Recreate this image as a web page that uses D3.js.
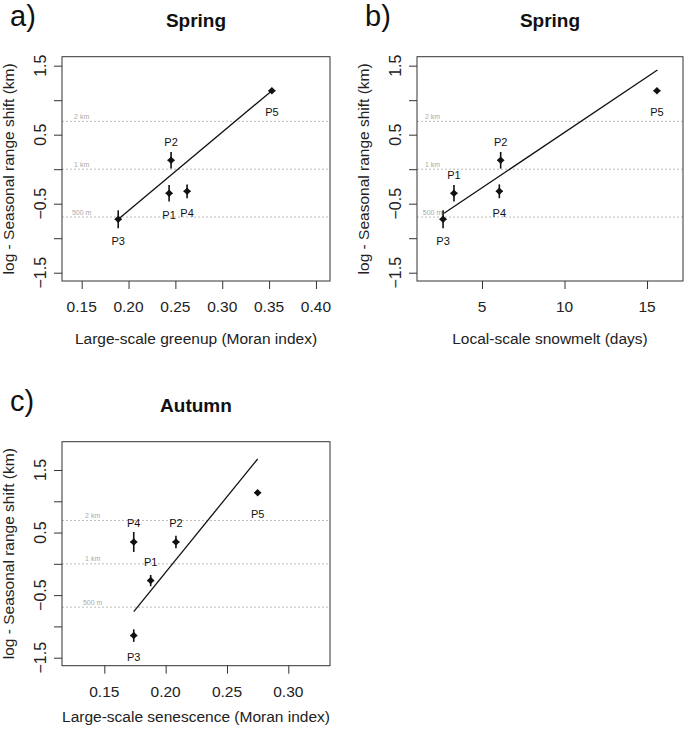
<!DOCTYPE html>
<html><head><meta charset="utf-8">
<script src="https://cdn.jsdelivr.net/npm/d3@7"></script>
<style>
html,body{margin:0;padding:0;background:#fff;}
svg{display:block;font-family:"Liberation Sans",Arial,sans-serif;}
</style></head>
<body>
<svg id="chart" width="685" height="731"></svg>
<script>
// ---------- data ----------
const pointNames = ["P1","P2","P3","P4","P5"];

const greenupX      = [0.2433, 0.2454, 0.189, 0.2625, 0.353];
const springShift   = [-0.349, 0.129, -0.726, -0.320, 1.138];
const springErr     = [0.12, 0.12, 0.13, 0.10, 0.02];
const greenupLabelSide = ["below","above","below","below","below"];
const greenupFit    = [[0.189, -0.726], [0.353, 1.138]];

const snowmeltX     = [3.30, 6.13, 2.64, 6.05, 15.6];
const snowmeltLabelSide = ["above","above","below","below","below"];
const snowmeltFit   = [[2.70, -0.639], [15.63, 1.437]];

const senescenceX   = [0.1878, 0.2084, 0.174, 0.174, 0.275];
const autumnShift   = [-0.268, 0.35, -1.147, 0.35, 1.137];
const autumnErr     = [0.09, 0.10, 0.10, 0.16, 0.02];
const senescenceLabelSide = ["above","above","below","above","below"];
const senescenceFit = [[0.174, -0.763], [0.275, 1.676]];

const refValues = [0.693, 0, -0.693];
const refLabels = ["2 km", "1 km", "500 m"];

const yTicks      = [-1.5, -1, -0.5, 0, 0.5, 1, 1.5];
const yTickLabels = [-1.5, -0.5, 0.5, 1.5];
const greenupTicks    = [0.15, 0.20, 0.25, 0.30, 0.35, 0.40];
const snowmeltTicks   = [5, 10, 15];
const senescenceTicks = [0.15, 0.20, 0.25, 0.30];

// ---------- panel setup ----------
const panels = [
  {letter:"a)", title:"Spring", xTitle:"Large-scale greenup (Moran index)",
   xs:greenupX, ys:springShift, err:springErr, side:greenupLabelSide, fit:greenupFit,
   xTicks:greenupTicks, xFmt:d3.format(".2f"), refX:0.15,
   xDom:[0.129,0.415], yDom:[-1.62,1.63], box:[62,330,56.7,281], xTitleOff:57},
  {letter:"b)", title:"Spring", xTitle:"Local-scale snowmelt (days)",
   xs:snowmeltX, ys:springShift, err:springErr, side:snowmeltLabelSide, fit:snowmeltFit,
   xTicks:snowmeltTicks, xFmt:d3.format("d"), refX:2.0,
   xDom:[1.06,17.18], yDom:[-1.62,1.63], box:[417,683,56.7,281], xTitleOff:57},
  {letter:"c)", title:"Autumn", xTitle:"Large-scale senescence (Moran index)",
   xs:senescenceX, ys:autumnShift, err:autumnErr, side:senescenceLabelSide, fit:senescenceFit,
   xTicks:senescenceTicks, xFmt:d3.format(".2f"), refX:0.1405,
   xDom:[0.1155,0.334], yDom:[-1.628,1.952], box:[62,330,441.7,665.7], xTitleOff:50.5}
];

const svg = d3.select("#chart");
const yFmt = d3.format(".1f");

panels.forEach(p => {
  const [L,R,T,B] = p.box;
  const x = d3.scaleLinear().domain(p.xDom).range([L,R]);
  const y = d3.scaleLinear().domain(p.yDom).range([B,T]);
  const g = svg.append("g");

  // reference lines
  refValues.forEach((v,i) => {
    g.append("line").attr("x1",L).attr("x2",R).attr("y1",y(v)).attr("y2",y(v))
      .attr("stroke","#bdbdbd").attr("stroke-width",1).attr("stroke-dasharray","2,2");
    g.append("text").attr("x",x(p.refX)).attr("y",y(v)-5)
      .attr("text-anchor","middle").attr("dominant-baseline","central")
      .attr("font-size",7).attr("fill","#aaaaaa").text(refLabels[i]);
  });

  // box
  g.append("rect").attr("x",L).attr("y",T).attr("width",R-L).attr("height",B-T)
    .attr("fill","none").attr("stroke","#333").attr("stroke-width",1);

  // y axis
  const yAx = d3.axisLeft(y).tickValues(yTicks).tickSize(8).tickFormat("");
  const ya = g.append("g").attr("transform",`translate(${L},0)`).call(yAx);
  ya.select(".domain").remove();
  ya.selectAll("line").attr("stroke","#333");
  yTickLabels.forEach(v => {
    g.append("text").attr("transform",`translate(${L-22},${y(v)}) rotate(-90)`)
      .attr("text-anchor","middle").attr("dominant-baseline","central")
      .attr("font-size",16).attr("fill","#222").text(yFmt(v));
  });

  // x axis
  const xAx = d3.axisBottom(x).tickValues(p.xTicks).tickSize(8).tickFormat("");
  const xa = g.append("g").attr("transform",`translate(0,${B})`).call(xAx);
  xa.select(".domain").remove();
  xa.selectAll("line").attr("stroke","#333");
  p.xTicks.forEach(v => {
    g.append("text").attr("x",x(v)).attr("y",B+25.5)
      .attr("text-anchor","middle").attr("dominant-baseline","central")
      .attr("font-size",15.5).attr("fill","#222").text(p.xFmt(v));
  });

  // axis titles
  g.append("text").attr("x",(L+R)/2).attr("y",B+p.xTitleOff)
    .attr("text-anchor","middle").attr("dominant-baseline","central")
    .attr("font-size",15.5).attr("fill","#222").text(p.xTitle);
  g.append("text").attr("transform",`translate(${L-54},${(T+B)/2}) rotate(-90)`)
    .attr("text-anchor","middle").attr("dominant-baseline","central")
    .attr("font-size",15.5).attr("fill","#222").text("log - Seasonal range shift (km)");

  // title & letter
  g.append("text").attr("x",(L+R)/2).attr("y",T-36)
    .attr("text-anchor","middle").attr("dominant-baseline","central")
    .attr("font-size",19).attr("font-weight","bold").attr("fill","#111").text(p.title);
  g.append("text").attr("x",L-52).attr("y",T-31)
    .attr("font-size",29).attr("fill","#111").text(p.letter);

  // fit line
  g.append("path").datum(p.fit)
    .attr("d", d3.line().x(d=>x(d[0])).y(d=>y(d[1])))
    .attr("fill","none").attr("stroke","#111").attr("stroke-width",1.3);

  // points
  pointNames.forEach((nm,i) => {
    const px = x(p.xs[i]), py = y(p.ys[i]);
    g.append("line").attr("x1",px).attr("x2",px)
      .attr("y1",y(p.ys[i]-p.err[i])).attr("y2",y(p.ys[i]+p.err[i]))
      .attr("stroke","#111").attr("stroke-width",1.6);
    g.append("line").attr("x1",px-3.5).attr("x2",px+3.5).attr("y1",py).attr("y2",py)
      .attr("stroke","#111").attr("stroke-width",1.2);
    g.append("path").attr("d",d3.symbol().type(d3.symbolSquare).size(28)())
      .attr("transform",`translate(${px},${py}) rotate(45)`).attr("fill","#111");
    const dy = p.side[i]==="above" ? -18.5 : 21.5;
    g.append("text").attr("x",px).attr("y",py+dy)
      .attr("text-anchor","middle").attr("dominant-baseline","central")
      .attr("font-size",11).attr("fill","#111").text(nm);
  });
});
</script>
</body></html>
